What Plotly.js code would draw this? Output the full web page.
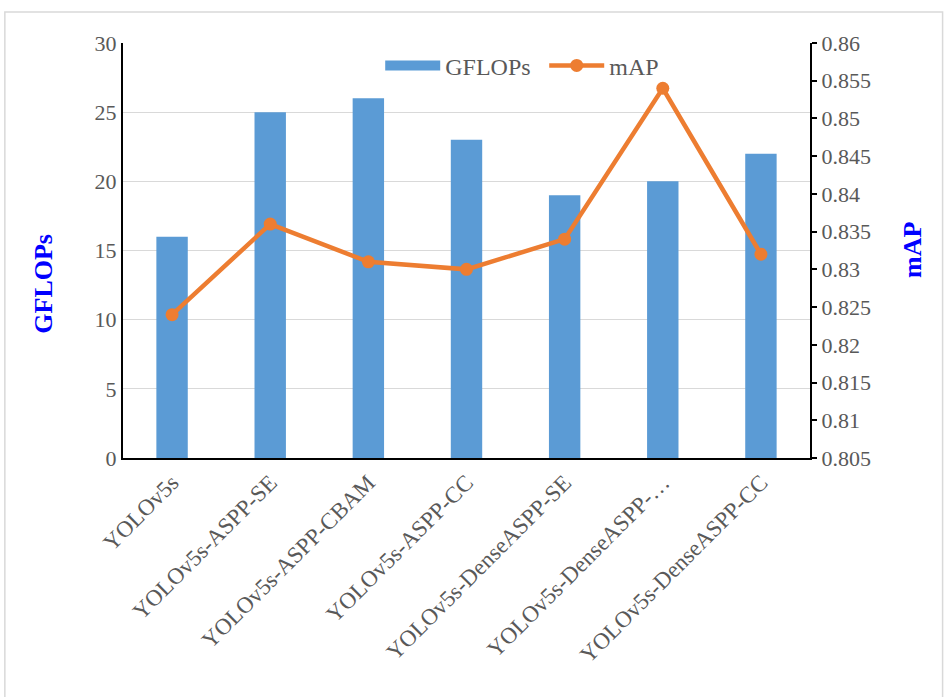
<!DOCTYPE html>
<html>
<head>
<meta charset="utf-8">
<script src="https://cdn.plot.ly/plotly-3.0.1.min.js"></script>
<style>html,body{margin:0;padding:0;background:#fff;}#chart{width:944px;height:697px;}</style>
</head>
<body>
<div id="chart"></div>
<script>
const categories = ["YOLOv5s", "YOLOv5s-ASPP-SE", "YOLOv5s-ASPP-CBAM", "YOLOv5s-ASPP-CC", "YOLOv5s-DenseASPP-SE", "YOLOv5s-DenseASPP-CBAM", "YOLOv5s-DenseASPP-CC"];
const tickLabels = ["YOLOv5s", "YOLOv5s-ASPP-SE", "YOLOv5s-ASPP-CBAM", "YOLOv5s-ASPP-CC", "YOLOv5s-DenseASPP-SE", "YOLOv5s-DenseASPP-…", "YOLOv5s-DenseASPP-CC"];
const gflops = [16, 25, 26, 23, 19, 20, 22];
const mAP = [0.824, 0.836, 0.831, 0.830, 0.834, 0.854, 0.832];
const mapTicks = [0.805, 0.81, 0.815, 0.82, 0.825, 0.83, 0.835, 0.84, 0.845, 0.85, 0.855, 0.86];
const mapTickText = ["0.805", "0.81", "0.815", "0.82", "0.825", "0.83", "0.835", "0.84", "0.845", "0.85", "0.855", "0.86"];

const font = "Liberation Serif, serif";
const traces = [
  {type: "scatter", mode: "lines", name: "GFLOPs", x: [null], y: [null], showlegend: true,
   line: {color: "#5b9bd5", width: 16}, hoverinfo: "skip"},
  {type: "bar", name: "GFLOPs", x: categories, y: gflops, marker: {color: "#5b9bd5"}, yaxis: "y", showlegend: false},
  {type: "scatter", mode: "lines+markers", name: "mAP", x: categories, y: mAP, yaxis: "y2",
   line: {color: "#ed7d31", width: 4.5}, marker: {color: "#ed7d31", size: 13}}
];
const layout = {
  width: 944, height: 697,
  margin: {l: 123, r: 134, t: 43, b: 239},
  paper_bgcolor: "#fff", plot_bgcolor: "#fff",
  font: {family: font, color: "#595959", size: 22},
  bargap: 0.68,
  showlegend: true,
  legend: {orientation: "h", x: 0.3744, y: 0.945, xanchor: "left", yanchor: "middle",
           entrywidth: 94, entrywidthmode: "pixels",
           font: {family: font, size: 24, color: "#595959"}, bgcolor: "rgba(0,0,0,0)", itemwidth: 55},
  xaxis: {type: "category", tickmode: "array", tickvals: categories, ticktext: tickLabels,
          tickangle: -45, tickfont: {family: font, size: 23, color: "#595959"},
          showline: true, linecolor: "#000", linewidth: 2, ticks: "", showgrid: false, zeroline: false},
  yaxis: {range: [0, 30], dtick: 5, showgrid: true, gridcolor: "#d9d9d9", gridwidth: 1,
          showline: true, linecolor: "#000", linewidth: 2, ticks: "", zeroline: false,
          tickfont: {family: font, size: 22, color: "#595959"}},
  yaxis2: {range: [0.805, 0.86], tickmode: "array", tickvals: mapTicks, ticktext: mapTickText,
           overlaying: "y", side: "right",
           showgrid: false, showline: true, linecolor: "#000", linewidth: 2,
           ticks: "outside", ticklen: 5, tickwidth: 2, tickcolor: "#000", zeroline: false,
           tickfont: {family: font, size: 22, color: "#595959"}},
  annotations: [
    {text: "<b>GFLOPs</b>", xref: "paper", yref: "paper", x: -0.115, y: 0.42, textangle: -90,
     showarrow: false, font: {family: font, size: 26, color: "#0000ff"}, xanchor: "center", yanchor: "middle"},
    {text: "<b>mAP</b>", xref: "paper", yref: "paper", x: 1.149, y: 0.502, textangle: -90,
     showarrow: false, font: {family: font, size: 26, color: "#0000ff"}, xanchor: "center", yanchor: "middle"}
  ],
  shapes: [{type: "rect", xref: "paper", yref: "paper", x0: -0.172, x1: 1.193, y0: -0.65, y1: 1.075,
            line: {color: "#d9d9d9", width: 1.5}, fillcolor: "rgba(0,0,0,0)", layer: "below"}]
};
Plotly.newPlot("chart", traces, layout, {displayModeBar: false});
</script>
</body>
</html>
